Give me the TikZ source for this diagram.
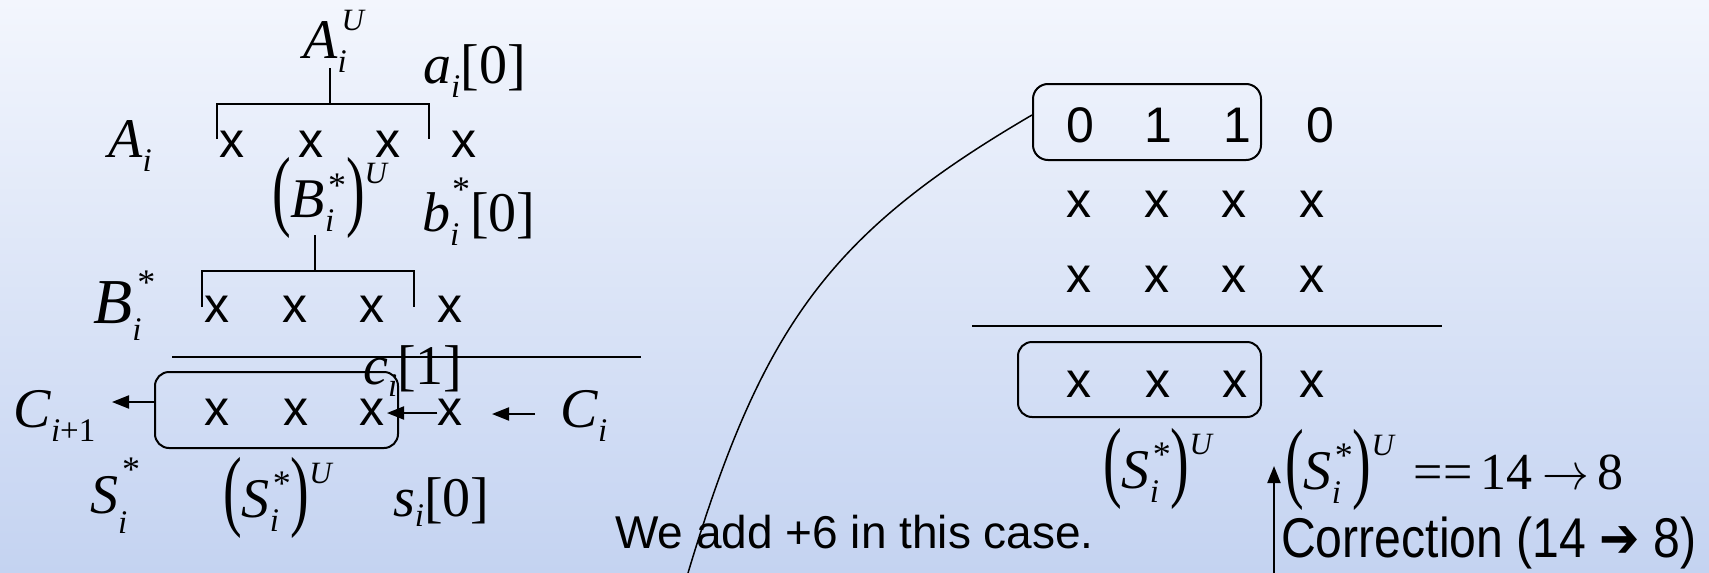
\documentclass[tikz,border=0pt]{standalone}
\usepackage{fix-cm}
\usepackage{graphicx}
\usepackage{fontspec}
\setmainfont{Liberation Serif}
\newfontfamily\sansf{Liberation Sans}
\newfontfamily\djv{DejaVu Sans}
\usetikzlibrary{arrows.meta}
\definecolor{bgtop}{RGB}{243,246,253}
\definecolor{bgbot}{RGB}{196,211,241}
% text-mode "math" pieces in Times-like font
\newcommand{\mySb}[2][12pt]{\raisebox{-#1}{\fontsize{33}{33}\selectfont\itshape #2}}
\newcommand{\mySp}[2][28pt]{\raisebox{#1}{\fontsize{31}{31}\selectfont\itshape #2}}
\newcommand{\myStar}[1][22pt]{\raisebox{#1}{\fontsize{36}{36}\selectfont *}}
\newcommand{\lpar}{\raisebox{-2pt}{\scalebox{1}[1.6]{(}}}
\newcommand{\rpar}{\raisebox{-2pt}{\scalebox{1}[1.6]{)}}}
\newcommand{\SUgroup}{\lpar\textit{S}\rlap{\mySb[14pt]{i}}\kern3pt\myStar[22pt]\rpar\mySp[34pt]{U}}
\tikzset{
  lab/.style={inner sep=0pt, anchor=base west, font=\fontsize{56}{60}\selectfont},
  xx/.style={inner sep=0pt, anchor=base, font=\sansf\fontsize{50}{56}\selectfont},
  rbox/.style={draw, line width=2pt, rounded corners=14pt, inner sep=0pt},
  ln/.style={line width=2pt},
  arr/.style={line width=2pt, -{Triangle[length=17pt,width=13pt]}},
}
\begin{document}
\begin{tikzpicture}[x=1pt,y=-1pt]
\shade[top color=bgtop, bottom color=bgbot] (0,0) rectangle (1709,573);
\useasboundingbox (0,0) rectangle (1709,573);

% ---------- left part ----------
\node[lab] (AU) at (303,58) {\textit{A}\rlap{\mySb[14pt]{i}}\kern4pt\mySp[28pt]{U}};
\node[lab] (a0) at (423,83) {\textit{a}\mySb[14pt]{i}[0]};
\node[lab] (Ai) at (108,157) {\textit{A}\mySb[14pt]{i}};
\node[xx] (ax1) at (232,157) {x};
\node[xx] (ax2) at (311,157) {x};
\node[xx] (ax3) at (388,157) {x};
\node[xx] (ax4) at (464,157) {x};
\draw[ln] (330,68) -- (330,104);
\draw[ln] (217,139) -- (217,104) -- (429,104) -- (429,139);

\node[lab] (BU) at (272,217) {\lpar\textit{B}\rlap{\mySb[14pt]{i}}\kern3pt\myStar[20pt]\rpar\mySp[34pt]{U}};
\node[lab] (b0) at (422,231) {\textit{b}\rlap{\mySb[14pt]{i}}\kern2pt\myStar[30pt][0]};
\node[lab, font=\fontsize{64}{70}\selectfont] (Bi) at (93,323) {\textit{B}\rlap{\mySb[17pt]{i}}\kern5pt\myStar[29pt]};
\node[xx] (bx1) at (217,322) {x};
\node[xx] (bx2) at (295,322) {x};
\node[xx] (bx3) at (372,322) {x};
\node[xx] (bx4) at (450,322) {x};
\draw[ln] (315,235) -- (315,271);
\draw[ln] (202,307) -- (202,271) -- (414,271) -- (414,307);

\draw[ln] (172,357) -- (641,357);

\node[rbox, minimum width=243pt, minimum height=76pt] (lbox) at (276.5,410) {};
\node[lab] (c1) at (363,384) {\textit{c}\mySb[12pt]{i}[1]};
\node[xx] (cx1) at (217,425) {x};
\node[xx] (cx2) at (296,425) {x};
\node[xx] (cx3) at (372,425) {x};
\node[xx] (cx4) at (450,425) {x};
\node[lab] (Cn) at (13,427) {\textit{C}\mySb[14pt]{i\upshape +1}};
\node[lab] (Ci) at (560,427) {\textit{C}\mySb[14pt]{i}};
\coordinate (cnTip) at (112,402);
\draw[arr] (lbox.west |- cnTip) -- (cnTip);
\coordinate (c3Tip) at (387,413);
\draw[arr] (cx4.west |- c3Tip) -- (c3Tip);
\coordinate (ciStart) at (535,414);
\coordinate (ciTip) at (492,414);
\draw[arr] (ciStart) -- (ciTip);

\node[lab] (Si) at (90,513) {\textit{S}\rlap{\mySb[20pt]{i}}\kern4pt\myStar[32pt]};
\node[lab] (SU) at (223,517) {\SUgroup};
\node[lab] (s0) at (393,516) {\textit{s}\mySb[10pt]{i}[0]};

% ---------- right part ----------
\node[rbox, rounded corners=15pt, minimum width=228pt, minimum height=76pt] (tbox) at (1147,122) {};
\node[xx] (d1) at (1080,142) {0};
\node[xx] (d2) at (1158,142) {1};
\node[xx] (d3) at (1237,142) {1};
\node[xx] (d4) at (1320,142) {0};
\node[xx] (r1x1) at (1079,217) {x};
\node[xx] (r1x2) at (1157,217) {x};
\node[xx] (r1x3) at (1234,217) {x};
\node[xx] (r1x4) at (1312,217) {x};
\node[xx] (r2x1) at (1079,292) {x};
\node[xx] (r2x2) at (1157,292) {x};
\node[xx] (r2x3) at (1234,292) {x};
\node[xx] (r2x4) at (1312,292) {x};
\draw[ln] (972,326) -- (1442,326);
\node[rbox, minimum width=243pt, minimum height=75pt] (bbox) at (1139.5,379.5) {};
\node[xx] (r3x1) at (1079,397) {x};
\node[xx] (r3x2) at (1158,397) {x};
\node[xx] (r3x3) at (1235,397) {x};
\node[xx] (r3x4) at (1312,397) {x};
\node[lab] (SU2) at (1103,488) {\SUgroup};
\node[lab] (eq) at (1285,489) {\SUgroup\hspace{20pt}{\fontsize{52}{56}\selectfont ==\hspace{8pt}14\hspace{10pt}\scalebox{0.9}[1]{$\rightarrow$}\hspace{8pt}8}};
\node[inner sep=0pt, anchor=base west, font=\sansf\fontsize{56}{60}\selectfont] (corr) at (1281,557)
  {\scalebox{0.86}[1]{Correction (14 {\djv ➔} 8)}};
\coordinate (vBot) at (1274,573);
\coordinate (vTop) at (1274,466);
\draw[arr] (vBot) -- (vTop);

\node[inner sep=0pt, anchor=base west, font=\sansf\fontsize{46}{50}\selectfont] (note) at (615,548) {We add +6 in this case.};

\coordinate (cEnd) at (688,573);
\draw[line width=1.5pt] ([yshift=7pt]tbox.west) .. controls (832,232) and (763,323) .. (cEnd);
\end{tikzpicture}
\end{document}
